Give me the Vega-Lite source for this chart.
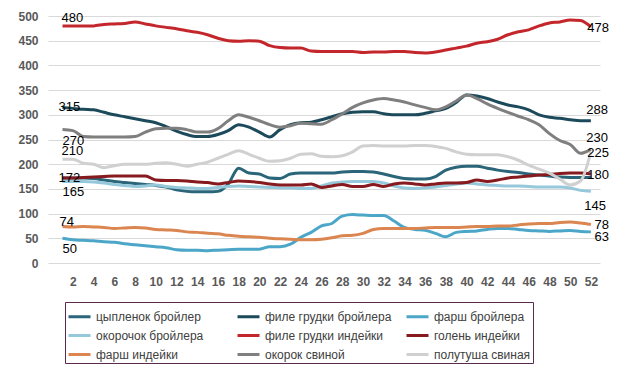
{
  "$schema": "https://vega.github.io/schema/vega-lite/v6.json",
  "width": 552,
  "height": 247,
  "autosize": {"type": "none"},
  "padding": {"left": 48, "top": 16, "right": 19, "bottom": 113},
  "background": "white",
  "datasets": {
    "weeks": [
      {"week":1,"цыпленок бройлер":172,"филе грудки бройлера":315,"фарш бройлера":50,"окорочок бройлера":165,"филе грудки индейки":480,"голень индейки":172,"фарш индейки":74,"окорок свиной":270,"полутуша свиная":210},
      {"week":2,"цыпленок бройлер":172,"филе грудки бройлера":313,"фарш бройлера":47,"окорочок бройлера":165,"филе грудки индейки":480,"голень индейки":172,"фарш индейки":73,"окорок свиной":268,"полутуша свиная":210},
      {"week":3,"цыпленок бройлер":172,"филе грудки бройлера":311,"фарш бройлера":46,"окорочок бройлера":165,"филе грудки индейки":480,"голень индейки":173,"фарш индейки":74,"окорок свиной":256,"полутуша свиная":202},
      {"week":4,"цыпленок бройлер":171,"филе грудки бройлера":310,"фарш бройлера":45,"окорочок бройлера":164,"филе грудки индейки":480,"голень индейки":174,"фарш индейки":73,"окорок свиной":255,"полутуша свиная":200},
      {"week":5,"цыпленок бройлер":168,"филе грудки бройлера":305,"фарш бройлера":43,"окорочок бройлера":162,"филе грудки индейки":483,"голень индейки":175,"фарш индейки":72,"окорок свиной":255,"полутуша свиная":193},
      {"week":6,"цыпленок бройлер":165,"филе грудки бройлера":300,"фарш бройлера":42,"окорочок бройлера":159,"филе грудки индейки":484,"голень индейки":176,"фарш индейки":70,"окорок свиной":255,"полутуша свиная":197},
      {"week":7,"цыпленок бройлер":163,"филе грудки бройлера":296,"фарш бройлера":39,"окорочок бройлера":157,"филе грудки индейки":485,"голень индейки":176,"фарш индейки":71,"окорок свиной":255,"полутуша свиная":200},
      {"week":8,"цыпленок бройлер":161,"филе грудки бройлера":292,"фарш бройлера":37,"окорочок бройлера":155,"филе грудки индейки":488,"голень индейки":176,"фарш индейки":72,"окорок свиной":256,"полутуша свиная":200},
      {"week":9,"цыпленок бройлер":159,"филе грудки бройлера":288,"фарш бройлера":35,"окорочок бройлера":156,"филе грудки индейки":484,"голень индейки":176,"фарш индейки":71,"окорок свиной":265,"полутуша свиная":200},
      {"week":10,"цыпленок бройлер":157,"филе грудки бройлера":284,"фарш бройлера":33,"окорочок бройлера":158,"филе грудки индейки":480,"голень индейки":168,"фарш индейки":68,"окорок свиной":272,"полутуша свиная":202},
      {"week":11,"цыпленок бройлер":154,"филе грудки бройлера":276,"фарш бройлера":31,"окорочок бройлера":155,"филе грудки индейки":477,"голень индейки":167,"фарш индейки":67,"окорок свиной":273,"полутуша свиная":203},
      {"week":12,"цыпленок бройлер":148,"филе грудки бройлера":267,"фарш бройлера":27,"окорочок бройлера":153,"филе грудки индейки":474,"голень индейки":167,"фарш индейки":66,"окорок свиной":273,"полутуша свиная":200},
      {"week":13,"цыпленок бройлер":145,"филе грудки бройлера":260,"фарш бройлера":26,"окорочок бройлера":152,"филе грудки индейки":470,"голень индейки":166,"фарш индейки":63,"окорок свиной":270,"полутуша свиная":196},
      {"week":14,"цыпленок бройлер":144,"филе грудки бройлера":256,"фарш бройлера":26,"окорочок бройлера":151,"филе грудки индейки":467,"голень индейки":164,"фарш индейки":62,"окорок свиной":265,"полутуша свиная":200},
      {"week":15,"цыпленок бройлер":144,"филе грудки бройлера":256,"фарш бройлера":25,"окорочок бройлера":151,"филе грудки индейки":462,"голень индейки":163,"фарш индейки":60,"окорок свиной":265,"полутуша свиная":204},
      {"week":16,"цыпленок бройлер":145,"филе грудки бройлера":260,"фарш бройлера":26,"окорочок бройлера":153,"филе грудки индейки":455,"голень индейки":160,"фарш индейки":59,"окорок свиной":272,"полутуша свиная":212},
      {"week":17,"цыпленок бройлер":160,"филе грудки бройлера":268,"фарш бройлера":27,"окорочок бройлера":155,"филе грудки индейки":450,"голень индейки":163,"фарш индейки":56,"окорок свиной":288,"полутуша свиная":220},
      {"week":18,"цыпленок бройлер":192,"филе грудки бройлера":280,"фарш бройлера":28,"окорочок бройлера":156,"филе грудки индейки":449,"голень индейки":166,"фарш индейки":54,"окорок свиной":300,"полутуша свиная":227},
      {"week":19,"цыпленок бройлер":182,"филе грудки бройлера":275,"фарш бройлера":28,"окорочок бройлера":155,"филе грудки индейки":450,"голень индейки":165,"фарш индейки":53,"окорок свиной":295,"полутуша свиная":220},
      {"week":20,"цыпленок бройлер":180,"филе грудки бройлера":265,"фарш бройлера":28,"окорочок бройлера":154,"филе грудки индейки":449,"голень индейки":163,"фарш индейки":52,"окорок свиной":288,"полутуша свиная":212},
      {"week":21,"цыпленок бройлер":172,"филе грудки бройлера":255,"фарш бройлера":33,"окорочок бройлера":153,"филе грудки индейки":440,"голень индейки":160,"фарш индейки":50,"окорок свиной":280,"полутуша свиная":206},
      {"week":22,"цыпленок бройлер":171,"филе грудки бройлера":270,"фарш бройлера":33,"окорочок бройлера":152,"филе грудки индейки":436,"голень индейки":158,"фарш индейки":49,"окорок свиной":275,"полутуша свиная":207},
      {"week":23,"цыпленок бройлер":180,"филе грудки бройлера":280,"фарш бройлера":38,"окорочок бройлера":152,"филе грудки индейки":435,"голень индейки":158,"фарш индейки":48,"окорок свиной":278,"полутуша свиная":212},
      {"week":24,"цыпленок бройлер":182,"филе грудки бройлера":284,"фарш бройлера":52,"окорочок бройлера":151,"филе грудки индейки":435,"голень индейки":158,"фарш индейки":47,"окорок свиной":283,"полутуша свиная":220},
      {"week":25,"цыпленок бройлер":182,"филе грудки бройлера":285,"фарш бройлера":62,"окорочок бройлера":151,"филе грудки индейки":429,"голень индейки":160,"фарш индейки":47,"окорок свиной":282,"полутуша свиная":221},
      {"week":26,"цыпленок бройлер":182,"филе грудки бройлера":290,"фарш бройлера":75,"окорочок бройлера":156,"филе грудки индейки":428,"голень индейки":153,"фарш индейки":48,"окорок свиной":281,"полутуша свиная":216},
      {"week":27,"цыпленок бройлер":182,"филе грудки бройлера":296,"фарш бройлера":80,"окорочок бройлера":162,"филе грудки индейки":428,"голень индейки":156,"фарш индейки":51,"окорок свиной":290,"полутуша свиная":215},
      {"week":28,"цыпленок бройлер":184,"филе грудки бройлера":302,"фарш бройлера":95,"окорочок бройлера":164,"филе грудки индейки":428,"голень индейки":159,"фарш индейки":55,"окорок свиной":302,"полутуша свиная":217},
      {"week":29,"цыпленок бройлер":185,"филе грудки бройлера":305,"фарш бройлера":98,"окорочок бройлера":165,"филе грудки индейки":428,"голень индейки":155,"фарш индейки":56,"окорок свиной":315,"полутуша свиная":225},
      {"week":30,"цыпленок бройлер":185,"филе грудки бройлера":306,"фарш бройлера":97,"окорочок бройлера":165,"филе грудки индейки":426,"голень индейки":155,"фарш индейки":60,"окорок свиной":324,"полутуша свиная":237},
      {"week":31,"цыпленок бройлер":184,"филе грудки бройлера":306,"фарш бройлера":96,"окорочок бройлера":165,"филе грудки индейки":427,"голень индейки":159,"фарш индейки":68,"окорок свиной":330,"полутуша свиная":238},
      {"week":32,"цыпленок бройлер":180,"филе грудки бройлера":302,"фарш бройлера":96,"окорочок бройлера":162,"филе грудки индейки":427,"голень индейки":155,"фарш индейки":70,"окорок свиной":333,"полутуша свиная":237},
      {"week":33,"цыпленок бройлер":175,"филе грудки бройлера":300,"фарш бройлера":85,"окорочок бройлера":156,"филе грудки индейки":428,"голень индейки":160,"фарш индейки":70,"окорок свиной":330,"полутуша свиная":237},
      {"week":34,"цыпленок бройлер":171,"филе грудки бройлера":300,"фарш бройлера":72,"окорочок бройлера":152,"филе грудки индейки":428,"голень индейки":162,"фарш индейки":70,"окорок свиной":326,"полутуша свиная":237},
      {"week":35,"цыпленок бройлер":170,"филе грудки бройлера":300,"фарш бройлера":68,"окорочок бройлера":151,"филе грудки индейки":426,"голень индейки":160,"фарш индейки":70,"окорок свиной":320,"полутуша свиная":238},
      {"week":36,"цыпленок бройлер":170,"филе грудки бройлера":303,"фарш бройлера":66,"окорочок бройлера":152,"филе грудки индейки":425,"голень индейки":158,"фарш индейки":71,"окорок свиной":315,"полутуша свиная":238},
      {"week":37,"цыпленок бройлер":175,"филе грудки бройлера":308,"фарш бройлера":60,"окорочок бройлера":154,"филе грудки индейки":427,"голень индейки":160,"фарш индейки":72,"окорок свиной":310,"полутуша свиная":236},
      {"week":38,"цыпленок бройлер":188,"филе грудки бройлера":313,"фарш бройлера":53,"окорочок бройлера":157,"филе грудки индейки":431,"голень индейки":162,"фарш индейки":72,"окорок свиной":316,"полутуша свиная":232},
      {"week":39,"цыпленок бройлер":194,"филе грудки бройлера":325,"фарш бройлера":62,"окорочок бройлера":160,"филе грудки индейки":435,"голень индейки":162,"фарш индейки":72,"окорок свиной":328,"полутуша свиная":225},
      {"week":40,"цыпленок бройлер":196,"филе грудки бройлера":340,"фарш бройлера":64,"окорочок бройлера":162,"филе грудки индейки":439,"голень индейки":163,"фарш индейки":73,"окорок свиной":340,"полутуша свиная":220},
      {"week":41,"цыпленок бройлер":196,"филе грудки бройлера":338,"фарш бройлера":65,"окорочок бройлера":160,"филе грудки индейки":445,"голень индейки":168,"фарш индейки":74,"окорок свиной":333,"полутуша свиная":219},
      {"week":42,"цыпленок бройлер":192,"филе грудки бройлера":333,"фарш бройлера":68,"окорочок бройлера":158,"филе грудки индейки":448,"голень индейки":165,"фарш индейки":74,"окорок свиной":322,"полутуша свиная":219},
      {"week":43,"цыпленок бройлер":188,"филе грудки бройлера":326,"фарш бройлера":70,"окорочок бройлера":157,"филе грудки индейки":453,"голень индейки":168,"фарш индейки":75,"окорок свиной":313,"полутуша свиная":219},
      {"week":44,"цыпленок бройлер":185,"филе грудки бройлера":320,"фарш бройлера":70,"окорочок бройлера":156,"филе грудки индейки":462,"голень индейки":172,"фарш индейки":75,"окорок свиной":305,"полутуша свиная":215},
      {"week":45,"цыпленок бройлер":183,"филе грудки бройлера":316,"фарш бройлера":68,"окорочок бройлера":156,"филе грудки индейки":468,"голень индейки":174,"фарш индейки":77,"окорок свиной":297,"полутуша свиная":208},
      {"week":46,"цыпленок бройлер":180,"филе грудки бройлера":310,"фарш бройлера":66,"окорочок бройлера":155,"филе грудки индейки":472,"голень индейки":176,"фарш индейки":79,"окорок свиной":290,"полутуша свиная":198},
      {"week":47,"цыпленок бройлер":178,"филе грудки бройлера":300,"фарш бройлера":65,"окорочок бройлера":154,"филе грудки индейки":480,"голень индейки":178,"фарш индейки":80,"окорок свиной":280,"полутуша свиная":190},
      {"week":48,"цыпленок бройлер":176,"филе грудки бройлера":295,"фарш бройлера":64,"окорочок бройлера":154,"филе грудки индейки":486,"голень индейки":179,"фарш индейки":80,"окорок свиной":262,"полутуша свиная":182},
      {"week":49,"цыпленок бройлер":174,"филе грудки бройлера":293,"фарш бройлера":65,"окорочок бройлера":154,"филе грудки индейки":488,"голень индейки":181,"фарш индейки":82,"окорок свиной":248,"полутуша свиная":170},
      {"week":50,"цыпленок бройлер":173,"филе грудки бройлера":290,"фарш бройлера":66,"окорочок бройлера":152,"филе грудки индейки":492,"голень индейки":182,"фарш индейки":83,"окорок свиной":240,"полутуша свиная":158},
      {"week":51,"цыпленок бройлер":173,"филе грудки бройлера":288,"фарш бройлера":64,"окорочок бройлера":147,"филе грудки индейки":491,"голень индейки":182,"фарш индейки":81,"окорок свиной":222,"полутуша свиная":166},
      {"week":52,"цыпленок бройлер":173,"филе грудки бройлера":288,"фарш бройлера":63,"окорочок бройлера":145,"филе грудки индейки":478,"голень индейки":180,"фарш индейки":78,"окорок свиной":230,"полутуша свиная":225}
    ],
    "labels": [
      {"series":"филе грудки индейки","week":1,"value":480,"label":"480"},
      {"series":"филе грудки бройлера","week":1,"value":315,"label":"315"},
      {"series":"окорок свиной","week":1,"value":270,"label":"270"},
      {"series":"полутуша свиная","week":1,"value":210,"label":"210"},
      {"series":"голень индейки","week":1,"value":172,"label":"172"},
      {"series":"окорочок бройлера","week":1,"value":165,"label":"165"},
      {"series":"фарш индейки","week":1,"value":74,"label":"74"},
      {"series":"фарш бройлера","week":1,"value":50,"label":"50"},
      {"series":"филе грудки индейки","week":52,"value":478,"label":"478"},
      {"series":"филе грудки бройлера","week":52,"value":288,"label":"288"},
      {"series":"окорок свиной","week":52,"value":230,"label":"230"},
      {"series":"полутуша свиная","week":52,"value":225,"label":"225"},
      {"series":"голень индейки","week":52,"value":180,"label":"180"},
      {"series":"окорочок бройлера","week":52,"value":145,"label":"145"},
      {"series":"фарш индейки","week":52,"value":78,"label":"78"},
      {"series":"фарш бройлера","week":52,"value":63,"label":"63"}
    ]
  },
  "encoding": {
    "x": {"field": "week", "type": "quantitative",
          "scale": {"domain": [-0.4, 52.88], "nice": false, "zero": false},
          "axis": {"title": null, "values": [2,4,6,8,10,12,14,16,18,20,22,24,26,28,30,32,34,36,38,40,42,44,46,48,50,52],
                   "labelOverlap": false, "labelBound": false, "labelFlush": false, "labelSeparation": 0, "grid": false, "domain": false, "ticks": false, "labelPadding": 13,
                   "labelFont": "Liberation Sans", "labelFontWeight": "bold", "labelFontSize": 12, "labelColor": "#595959"}},
    "y": {"field": "value", "type": "quantitative",
          "scale": {"domain": [0, 500], "nice": false},
          "axis": {"title": null, "values": [0,50,100,150,200,250,300,350,400,450,500],
                   "labelOverlap": false, "grid": true, "gridColor": "#d9d9d9", "gridWidth": 1, "domain": false, "ticks": false,
                   "labelPadding": 10, "labelFont": "Liberation Sans", "labelFontWeight": "bold", "labelFontSize": 12, "labelColor": "#595959"}}
  },
  "layer": [
    {
      "data": {"name": "weeks"},
      "transform": [
        {"fold": ["цыпленок бройлер","филе грудки бройлера","фарш бройлера","окорочок бройлера","филе грудки индейки","голень индейки","фарш индейки","окорок свиной","полутуша свиная"], "as": ["series","value"]}
      ],
      "mark": {"type": "line", "strokeWidth": 3, "interpolate": "monotone"},
      "encoding": {
        "color": {"field": "series", "type": "nominal",
                  "scale": {"domain": ["цыпленок бройлер","филе грудки бройлера","фарш бройлера","окорочок бройлера","филе грудки индейки","голень индейки","фарш индейки","окорок свиной","полутуша свиная"],
                            "range": ["#2B6579","#1C4A5A","#4BA6C8","#95C8DA","#C3262B","#861A1E","#DB8650","#7F7F7F","#D0D0D0"]},
                  "legend": {"title": null, "orient": "none", "legendX": 17, "legendY": 286, "direction": "horizontal", "columns": 3,
                             "symbolType": "stroke", "symbolSize": 484, "symbolStrokeWidth": 3,
                             "labelFont": "Liberation Sans", "labelFontSize": 12, "labelColor": "#404040", "labelOffset": 4, "labelLimit": 0,
                             "columnPadding": 8, "rowPadding": 0, "padding": 2, "strokeColor": "#5a2a50", "gridAlign": "all"}}
      }
    },
    {
      "data": {"name": "labels"},
      "transform": [{"filter": {"field": "label", "oneOf": ["480","210"]}}],
      "mark": {"type": "text", "align": "left", "dx": -1, "dy": -8, "font": "Liberation Sans", "fontSize": 13, "color": "#000000"},
      "encoding": {"text": {"field": "label"}}
    },
    {
      "data": {"name": "labels"},
      "transform": [{"filter": {"field": "label", "oneOf": ["74"]}}],
      "mark": {"type": "text", "align": "left", "dx": -3, "dy": -4, "font": "Liberation Sans", "fontSize": 13, "color": "#000000"},
      "encoding": {"text": {"field": "label"}}
    },
    {
      "data": {"name": "labels"},
      "transform": [{"filter": {"field": "label", "oneOf": ["315","172"]}}],
      "mark": {"type": "text", "align": "left", "dx": -4, "dy": 0, "font": "Liberation Sans", "fontSize": 13, "color": "#000000"},
      "encoding": {"text": {"field": "label"}}
    },
    {
      "data": {"name": "labels"},
      "transform": [{"filter": {"field": "label", "oneOf": ["270","165","50"]}}],
      "mark": {"type": "text", "align": "left", "dx": 0, "dy": 11, "font": "Liberation Sans", "fontSize": 13, "color": "#000000"},
      "encoding": {"text": {"field": "label"}}
    },
    {
      "data": {"name": "labels"},
      "transform": [{"filter": {"field": "label", "oneOf": ["288","230"]}}],
      "mark": {"type": "text", "align": "right", "dx": 17, "dy": -11, "font": "Liberation Sans", "fontSize": 13, "color": "#000000"},
      "encoding": {"text": {"field": "label"}}
    },
    {
      "data": {"name": "labels"},
      "transform": [{"filter": {"field": "label", "oneOf": ["478","225","180","78"]}}],
      "mark": {"type": "text", "align": "right", "dx": 18, "dy": 1, "font": "Liberation Sans", "fontSize": 13, "color": "#000000"},
      "encoding": {"text": {"field": "label"}}
    },
    {
      "data": {"name": "labels"},
      "transform": [{"filter": {"field": "label", "oneOf": ["63"]}}],
      "mark": {"type": "text", "align": "right", "dx": 18, "dy": 5, "font": "Liberation Sans", "fontSize": 13, "color": "#000000"},
      "encoding": {"text": {"field": "label"}}
    },
    {
      "data": {"name": "labels"},
      "transform": [{"filter": {"field": "label", "oneOf": ["145"]}}],
      "mark": {"type": "text", "align": "right", "dx": 15, "dy": 15, "font": "Liberation Sans", "fontSize": 13, "color": "#000000"},
      "encoding": {"text": {"field": "label"}}
    }
  ],
  "config": {"view": {"stroke": null}, "font": "Liberation Sans"}
}
